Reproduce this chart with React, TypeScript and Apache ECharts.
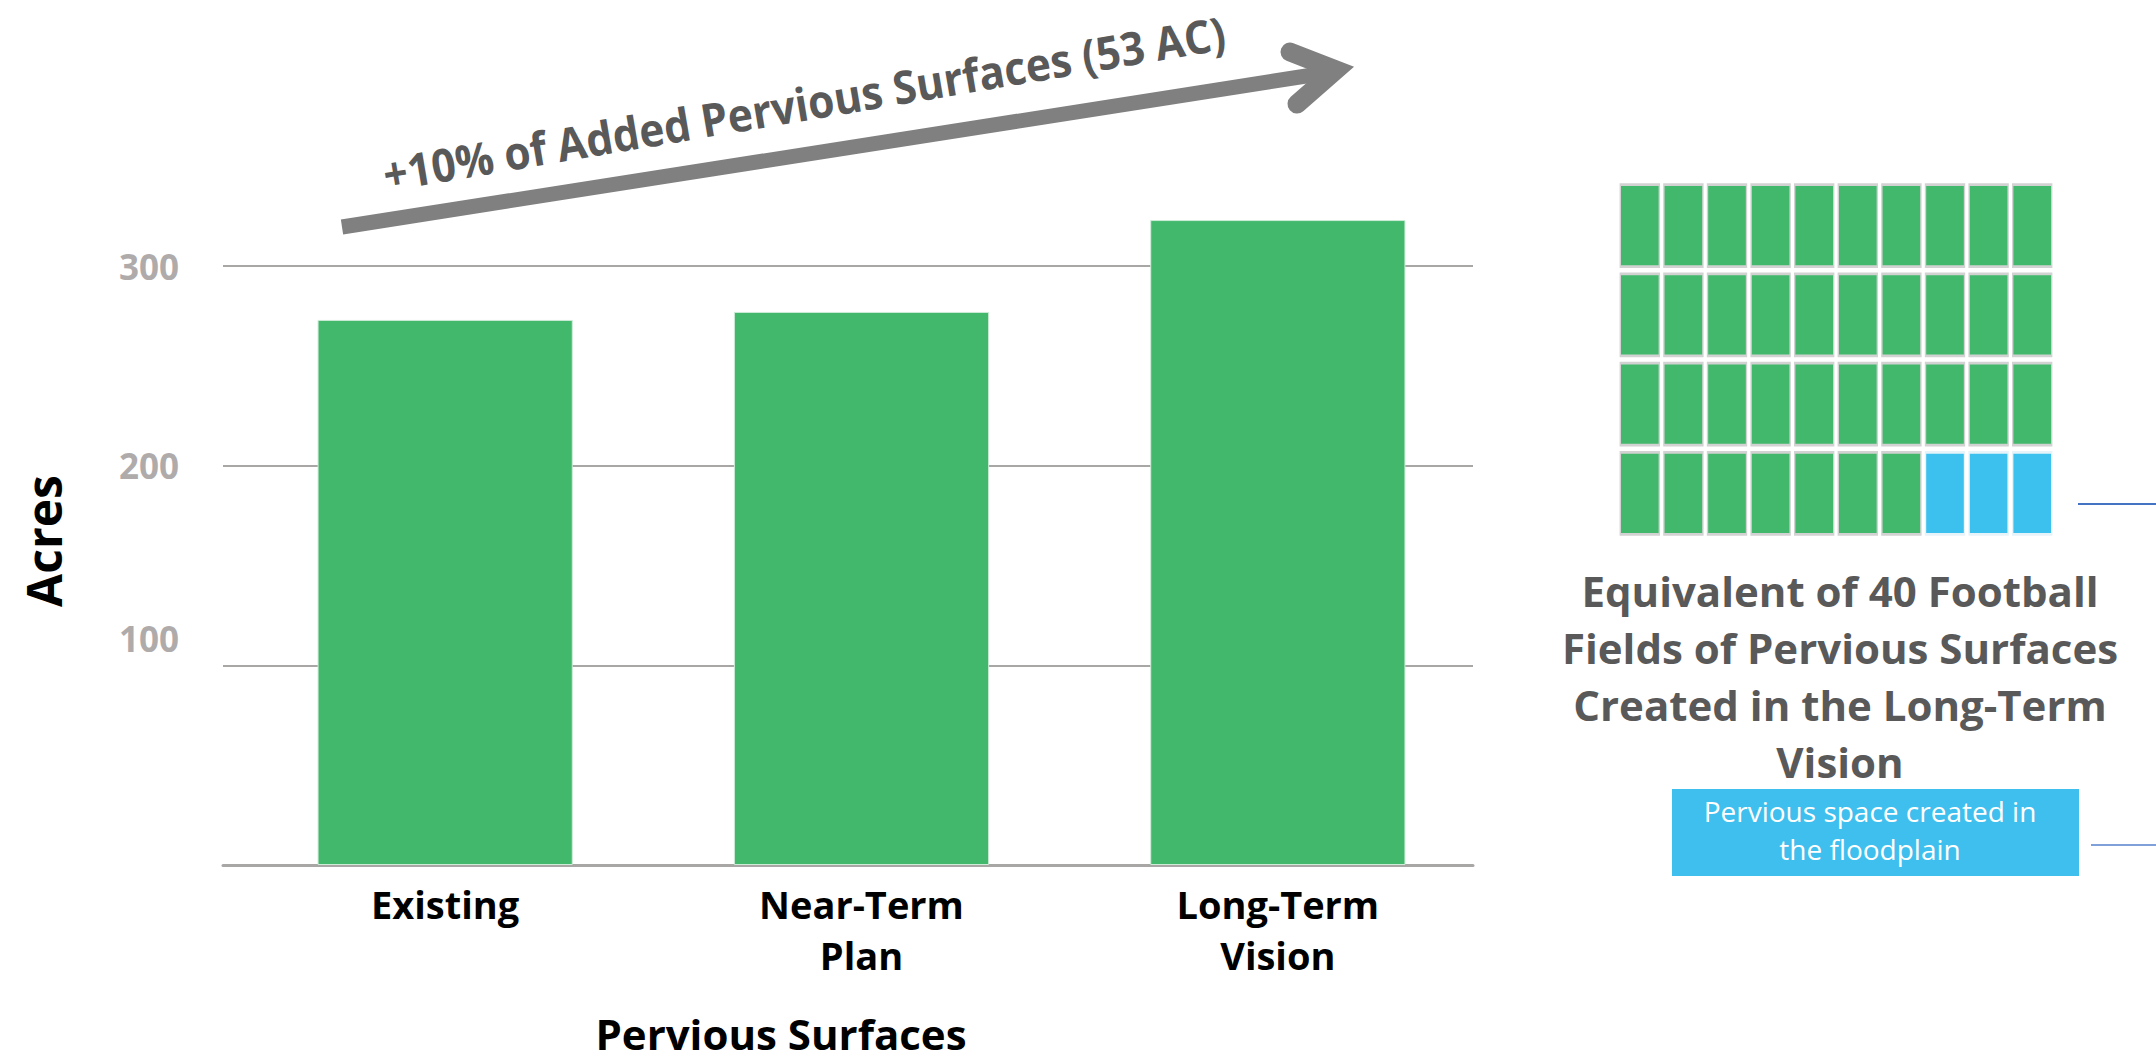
import React, { useEffect, useRef } from "react";
import * as echarts from "echarts";

const categories = ["Existing", "Near-Term\nPlan", "Long-Term\nVision"];
const acres = [273, 277, 323];
const yTicks = [0, 100, 200, 300];
const totalFields = 40;
const floodplainFields = 3;
const waffleColumns = 10;
const waffleRows = 4;

const GREEN = "#41B86B";
const BLUE = "#3CC1EF";
const DARK = "#595959";
const FONT = "'Open Sans', 'Noto Sans', sans-serif";

export default function App() {
  const ref = useRef<HTMLDivElement>(null);
  useEffect(() => {
    if (!ref.current) return;
    const chart = echarts.init(ref.current, null, { renderer: "svg" });

    const waffleData: any[] = [];
    for (let i = 0; i < totalFields; i++) {
      const col = i % waffleColumns;
      const row = Math.floor(i / waffleColumns);
      const flood = i >= totalFields - floodplainFields;
      waffleData.push({
        value: [col, row],
        itemStyle: { color: flood ? BLUE : GREEN, borderColor: flood ? "#E6F4FA" : "#D2D2D2" },
      });
    }

    const labelBase = { fontFamily: FONT, fontWeight: "bold", fontSize: 35, color: "#AFABAB", lineHeight: 40 };

    chart.setOption({
      animation: false,
      grid: [
        { left: 237, top: 266, width: 1249, height: 599 },
        { left: 223, top: 266, width: 1250, height: 599 },
        { left: 1618, top: 181, width: 436, height: 357 },
      ],
      xAxis: [
        {
          gridIndex: 0,
          type: "category",
          data: categories,
          axisLine: { show: false },
          axisTick: { show: false },
          axisLabel: {
            margin: 13,
            fontFamily: FONT,
            fontWeight: "bold",
            fontSize: 38,
            lineHeight: 51,
            color: "#000",
          },
        },
        {
          gridIndex: 1,
          type: "category",
          data: categories,
          axisLine: { show: true, lineStyle: { color: "#A9A6A6", width: 3 } },
          axisTick: { show: false },
          axisLabel: { show: false },
        },
        {
          gridIndex: 2,
          type: "category",
          data: Array.from({ length: waffleColumns }, (_, i) => String(i)),
          show: false,
        },
      ],
      yAxis: [
        { gridIndex: 0, type: "value", min: 0, max: 300, show: false },
        {
          gridIndex: 1,
          type: "value",
          min: yTicks[0],
          max: yTicks[yTicks.length - 1],
          interval: 100,
          axisLine: { show: false },
          axisTick: { show: false },
          splitLine: { lineStyle: { color: "#A9A6A6", width: 2 } },
          axisLabel: {
            margin: 44,
            formatter: (v: number) => (v === 0 ? "" : v === 100 ? "{b|100}" : "{a|" + v + "}"),
            rich: {
              a: labelBase,
              b: { ...labelBase, padding: [0, 0, 54, 0] },
            },
          },
        },
        {
          gridIndex: 2,
          type: "category",
          inverse: true,
          data: Array.from({ length: waffleRows }, (_, i) => String(i)),
          show: false,
        },
      ],
      series: [
        {
          type: "bar",
          xAxisIndex: 0,
          yAxisIndex: 0,
          data: acres,
          barWidth: "61.3%",
          clip: false,
          itemStyle: { color: GREEN, borderColor: "#CDEBD6", borderWidth: 1 },
          z: 3,
        },
        {
          type: "scatter",
          xAxisIndex: 2,
          yAxisIndex: 2,
          symbol: "rect",
          symbolSize: [39, 82],
          data: waffleData,
          itemStyle: { borderWidth: 2, opacity: 1 },
        },
      ],
      graphic: [
        {
          type: "line",
          shape: { x1: 342, y1: 227, x2: 1332, y2: 72 },
          style: { stroke: "#808080", lineWidth: 15, lineCap: "butt" },
        },
        {
          type: "polyline",
          shape: { points: [[1290, 52], [1336, 70], [1297, 104]] },
          style: { stroke: "#808080", lineWidth: 19, lineCap: "round", lineJoin: "miter", fill: null },
        },
        {
          type: "text",
          x: 804,
          y: 103,
          rotation: 0.1676,
          scaleY: 1.08,
          style: {
            text: "+10% of Added Pervious Surfaces (53 AC)",
            fontFamily: FONT,
            fontWeight: "bold",
            fontSize: 42.5,
            fill: DARK,
            align: "center",
            verticalAlign: "middle",
          },
        },
        {
          type: "text",
          x: 43,
          y: 541,
          rotation: Math.PI / 2,
          style: {
            text: "Acres",
            fontFamily: FONT,
            fontWeight: "bold",
            fontSize: 48,
            fill: "#000",
            align: "center",
            verticalAlign: "middle",
          },
        },
        {
          type: "text",
          x: 781,
          y: 1033,
          style: {
            text: "Pervious Surfaces",
            fontFamily: FONT,
            fontWeight: "bold",
            fontSize: 42,
            fill: "#000",
            align: "center",
            verticalAlign: "middle",
          },
        },
        {
          type: "text",
          x: 1840,
          y: 676,
          style: {
            text: "Equivalent of 40 Football\nFields of Pervious Surfaces\nCreated in the Long-Term\nVision",
            fontFamily: FONT,
            fontWeight: "bold",
            fontSize: 42,
            lineHeight: 57,
            fill: DARK,
            align: "center",
            verticalAlign: "middle",
          },
        },
        {
          type: "rect",
          shape: { x: 1672, y: 789, width: 407, height: 87 },
          style: { fill: "#3EBFEE" },
        },
        {
          type: "text",
          x: 1870,
          y: 830,
          style: {
            text: "Pervious space created in\nthe floodplain",
            fontFamily: FONT,
            fontSize: 28,
            lineHeight: 38,
            fill: "#fff",
            align: "center",
            verticalAlign: "middle",
          },
        },
        {
          type: "line",
          shape: { x1: 2078, y1: 504, x2: 2156, y2: 504 },
          style: { stroke: "#4472C4", lineWidth: 2 },
        },
        {
          type: "line",
          shape: { x1: 2091, y1: 845, x2: 2156, y2: 845 },
          style: { stroke: "#7FA0DA", lineWidth: 2 },
        },
      ],
    });
    return () => chart.dispose();
  }, []);
  return (
    <div
      ref={ref}
      style={{ position: "absolute", left: 0, top: 0, width: 2156, height: 1064, background: "#fff" }}
    />
  );
}
